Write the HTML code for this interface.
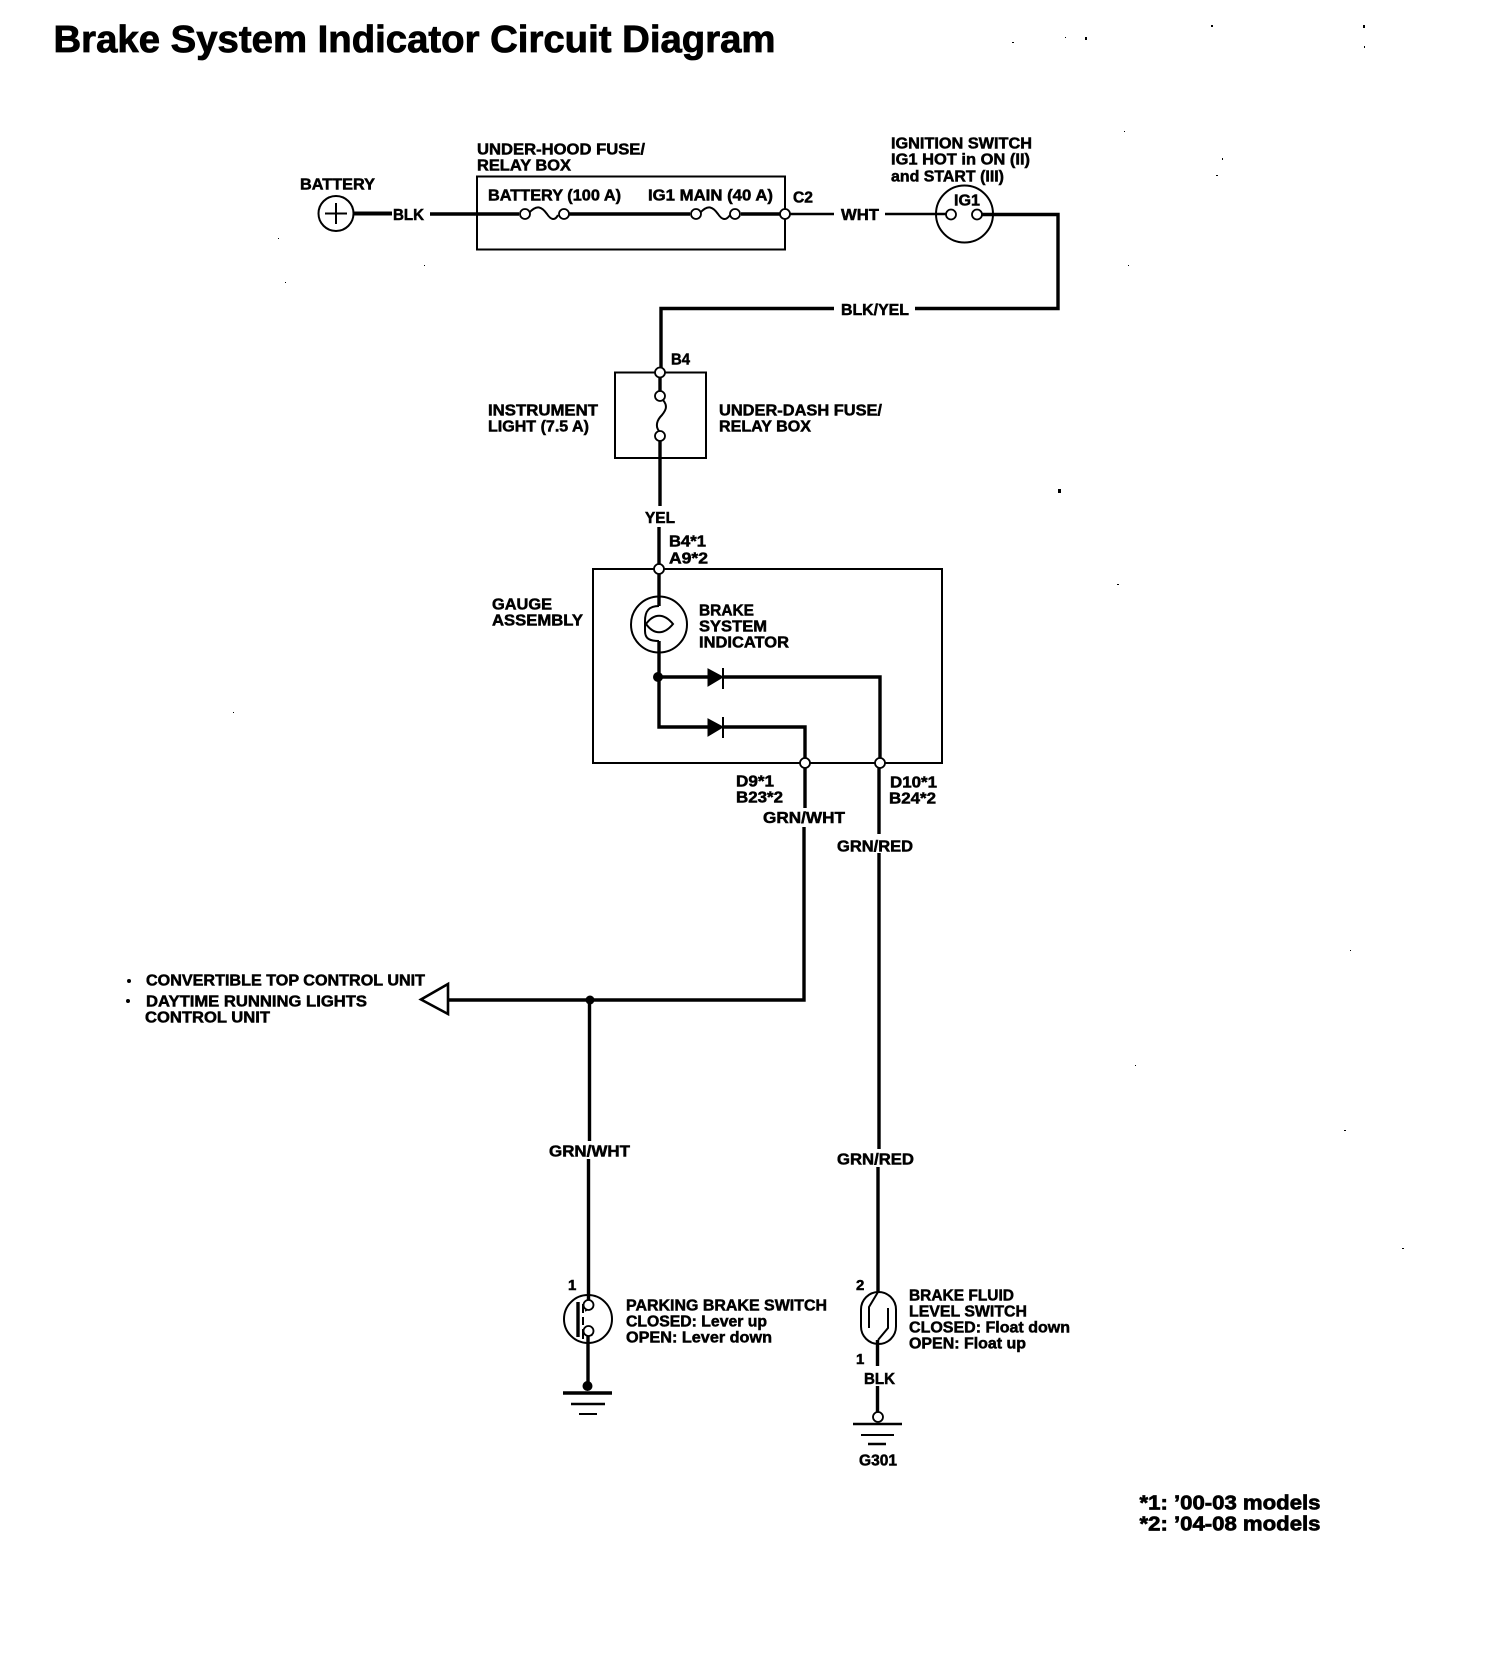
<!DOCTYPE html>
<html>
<head>
<meta charset="utf-8">
<style>
html,body{margin:0;padding:0;background:#fff}
svg{display:block}
text{font-family:"Liberation Sans",sans-serif;font-weight:700;font-size:15.5px;fill:#000;stroke:#000;stroke-width:.5px}
.w{fill:none;stroke:#000;stroke-width:3.4}
.t{fill:none;stroke:#000;stroke-width:2}
.n{fill:#fff;stroke:#000;stroke-width:1.8}
</style>
</head>
<body>
<svg width="1504" height="1666" viewBox="0 0 1504 1666" xmlns="http://www.w3.org/2000/svg">
<rect width="1504" height="1666" fill="#fff"/>

<!-- title -->
<text x="53.500" y="52" textLength="722" lengthAdjust="spacingAndGlyphs" style="font-size:38px;stroke-width:.8px">Brake System Indicator Circuit Diagram</text>

<g transform="translate(-1,-1)">
<!-- top row -->
<text x="301" y="190.400" textLength="75" lengthAdjust="spacingAndGlyphs">BATTERY</text>
<circle cx="337" cy="214.500" r="17.500" class="t"/>
<path d="M337 204V225M326 214.500H348" class="t" stroke-width="1.500"/>
<path d="M354 214.500H393" class="w" style="stroke-width:4"/>
<text x="394" y="221" textLength="31" lengthAdjust="spacingAndGlyphs">BLK</text>
<path d="M431 215H520M570 215H691M742 215H781" class="w"/>

<rect x="478" y="177.500" width="308" height="73" class="t"/>
<text x="478" y="155.400" textLength="168" lengthAdjust="spacingAndGlyphs">UNDER-HOOD FUSE/</text>
<text x="478" y="171.400" textLength="94" lengthAdjust="spacingAndGlyphs">RELAY BOX</text>
<text x="489" y="201.400" textLength="133" lengthAdjust="spacingAndGlyphs">BATTERY (100 A)</text>
<text x="649" y="201.400" textLength="125" lengthAdjust="spacingAndGlyphs">IG1 MAIN (40 A)</text>
<path d="M530 214C538 205 543 208 548 215C552 221 556 222 559 216" class="t"/>
<circle cx="526" cy="215" r="5" class="n"/><circle cx="565" cy="215" r="5" class="n"/>
<path d="M701 214C709 205 714 208 719 215C723 221 727 222 731 216" class="t"/>
<circle cx="697" cy="215" r="5" class="n"/><circle cx="736" cy="215" r="5" class="n"/>

<text x="794" y="203.400" textLength="20" lengthAdjust="spacingAndGlyphs">C2</text>
<path d="M790 215H835" class="t" style="stroke-width:2.600"/>
<circle cx="786" cy="215" r="5" class="n"/>
<text x="842" y="221" textLength="38" lengthAdjust="spacingAndGlyphs">WHT</text>
<path d="M886 215H948" class="t" style="stroke-width:2.600"/>

<text x="892" y="149.400" textLength="141" lengthAdjust="spacingAndGlyphs">IGNITION SWITCH</text>
<text x="892" y="165.400" textLength="139" lengthAdjust="spacingAndGlyphs">IG1 HOT in ON (II)</text>
<text x="892" y="182.400" textLength="113" lengthAdjust="spacingAndGlyphs">and START (III)</text>
<circle cx="965.500" cy="215" r="28.500" class="t"/>
<text x="955" y="206.400" textLength="26" lengthAdjust="spacingAndGlyphs">IG1</text>
<circle cx="952" cy="215.500" r="5" class="n"/><circle cx="978" cy="215.500" r="5" class="n"/>
<path d="M983 215.500H1059V309.500H916" class="w"/>
<text x="842" y="316" textLength="68" lengthAdjust="spacingAndGlyphs">BLK/YEL</text>
<path d="M835 309.500H662V369" class="w"/>

<!-- under-dash fuse -->
<text x="672" y="365.400" textLength="19" lengthAdjust="spacingAndGlyphs">B4</text>
<rect x="616" y="373.500" width="91" height="85.500" class="t"/>
<circle cx="661" cy="373.500" r="5" class="n"/>
<path d="M661 378V392" class="w"/>
<path d="M664 401C669 407 667 411 663 416C658 421 656 427 660 432" class="t"/>
<circle cx="661" cy="397" r="5" class="n"/><circle cx="661" cy="437" r="5" class="n"/>
<text x="489" y="416.400" textLength="110" lengthAdjust="spacingAndGlyphs">INSTRUMENT</text>
<text x="489" y="432.400" textLength="101" lengthAdjust="spacingAndGlyphs">LIGHT (7.5 A)</text>
<text x="720" y="416.400" textLength="163" lengthAdjust="spacingAndGlyphs">UNDER-DASH FUSE/</text>
<text x="720" y="432.400" textLength="92" lengthAdjust="spacingAndGlyphs">RELAY BOX</text>
<path d="M661 442V507" class="w"/>
<text x="646" y="524" textLength="30" lengthAdjust="spacingAndGlyphs">YEL</text>
<path d="M660 528V566" class="w"/>
<text x="670" y="547.400" textLength="37" lengthAdjust="spacingAndGlyphs">B4*1</text>
<text x="670" y="564.400" textLength="39" lengthAdjust="spacingAndGlyphs">A9*2</text>

<!-- gauge -->
<rect x="594" y="570" width="349" height="194" class="t"/>
<circle cx="660" cy="570" r="5" class="n"/>
<text x="493" y="610.500" textLength="60" lengthAdjust="spacingAndGlyphs">GAUGE</text>
<text x="493" y="626.500" textLength="91" lengthAdjust="spacingAndGlyphs">ASSEMBLY</text>
<text x="700" y="616.500" textLength="55" lengthAdjust="spacingAndGlyphs">BRAKE</text>
<text x="700" y="632.500" textLength="68" lengthAdjust="spacingAndGlyphs">SYSTEM</text>
<text x="700" y="648.500" textLength="90" lengthAdjust="spacingAndGlyphs">INDICATOR</text>
<path d="M660 575V607" class="w"/>
<circle cx="660" cy="625.500" r="28" class="t"/>
<path d="M660 607C650 607 646 612 646 622V632C646 640 651 642 660 642" class="t"/>
<path d="M647 625C655 614 665 614 674 625C665 636 655 636 647 625Z" class="t"/>
<path d="M660 642V728H710M724 728H806V759" class="w"/>
<path d="M659 678H710M724 678H881V759" class="w"/>
<circle cx="659" cy="678" r="5" fill="#000"/>
<path d="M709 670V687L724 678Z" fill="#000" stroke="#000"/>
<path d="M724 669V690" class="t"/>
<path d="M709 720V737L724 728Z" fill="#000" stroke="#000"/>
<path d="M724 718V739" class="t"/>
<circle cx="806" cy="764" r="5" class="n"/>
<circle cx="881" cy="764" r="5" class="n"/>

<text x="737" y="787.400" textLength="38" lengthAdjust="spacingAndGlyphs">D9*1</text>
<text x="737" y="803.400" textLength="47" lengthAdjust="spacingAndGlyphs">B23*2</text>
<text x="891" y="788.400" textLength="47" lengthAdjust="spacingAndGlyphs">D10*1</text>
<text x="890" y="804.400" textLength="47" lengthAdjust="spacingAndGlyphs">B24*2</text>
<path d="M806 769V809" class="w"/>
<text x="764" y="824" textLength="82" lengthAdjust="spacingAndGlyphs">GRN/WHT</text>
<path d="M805 828V1001H449" class="w"/>
<path d="M880 769V835" class="w"/>
<text x="838" y="852.400" textLength="76" lengthAdjust="spacingAndGlyphs">GRN/RED</text>
<path d="M880 854V1150" class="w"/>
<text x="838" y="1165.400" textLength="77" lengthAdjust="spacingAndGlyphs">GRN/RED</text>
<path d="M879 1168V1293" class="w"/>

<!-- left branch -->
<circle cx="130" cy="982" r="2" fill="#000"/>
<circle cx="129" cy="1002" r="2" fill="#000"/>
<text x="147" y="986.400" textLength="279" lengthAdjust="spacingAndGlyphs">CONVERTIBLE TOP CONTROL UNIT</text>
<text x="147" y="1007.400" textLength="221" lengthAdjust="spacingAndGlyphs">DAYTIME RUNNING LIGHTS</text>
<text x="146" y="1023.400" textLength="125" lengthAdjust="spacingAndGlyphs">CONTROL UNIT</text>
<path d="M449 985V1015L422 1000.500Z" fill="#fff" stroke="#000" stroke-width="2.600"/>
<circle cx="591" cy="1001" r="4.500" fill="#000"/>
<path d="M590.500 1001V1142" class="w"/>
<text x="550" y="1157.400" textLength="81" lengthAdjust="spacingAndGlyphs">GRN/WHT</text>
<path d="M589.500 1160V1301" class="w"/>

<!-- parking brake switch -->
<text x="569" y="1291" style="font-size:15px">1</text>
<circle cx="589" cy="1320" r="24" class="t"/>
<path d="M579 1303V1338" class="w"/>
<path d="M584 1305V1314M584 1318V1326M584 1330V1340" class="t"/>
<path d="M593 1302C590 1309 589 1311 586 1312M586 1328C589 1329 591 1331 593 1337" class="t" style="stroke-width:1.400"/>
<circle cx="589.500" cy="1306" r="5" class="n"/><circle cx="589.500" cy="1332" r="5" class="n"/>
<path d="M589 1337V1387" class="w"/>
<circle cx="588.500" cy="1387" r="5" fill="#000"/>
<path d="M564 1394H613" class="w"/>
<path d="M572 1405H606" class="w" style="stroke-width:2.600"/>
<path d="M580 1415H598" class="t"/>
<text x="627" y="1311.400" textLength="201" lengthAdjust="spacingAndGlyphs">PARKING BRAKE SWITCH</text>
<text x="627" y="1327.400" textLength="141" lengthAdjust="spacingAndGlyphs">CLOSED: Lever up</text>
<text x="627" y="1343.400" textLength="146" lengthAdjust="spacingAndGlyphs">OPEN: Lever down</text>

<!-- brake fluid switch -->
<text x="857" y="1291" style="font-size:15px">2</text>
<rect x="862" y="1293" width="35" height="52" rx="17.500" ry="17.500" class="t"/>
<path d="M879 1293L870 1308V1329" class="t"/>
<path d="M889 1309V1329L879 1341" class="t"/>
<path d="M878.500 1341V1367" class="w"/>
<text x="857" y="1365" style="font-size:15px">1</text>
<text x="865" y="1385" textLength="31" lengthAdjust="spacingAndGlyphs">BLK</text>
<path d="M878.500 1387V1414" class="w"/>
<circle cx="879" cy="1418" r="5" class="n"/>
<path d="M854 1425H903" class="w" style="stroke-width:2.600"/>
<path d="M862 1436H895" class="t"/>
<path d="M869 1445H887" class="t" style="stroke-width:2.400"/>
<text x="860" y="1466.400" textLength="38" lengthAdjust="spacingAndGlyphs">G301</text>
<text x="910" y="1301.400" textLength="105" lengthAdjust="spacingAndGlyphs">BRAKE FLUID</text>
<text x="910" y="1317.400" textLength="118" lengthAdjust="spacingAndGlyphs">LEVEL SWITCH</text>
<text x="910" y="1333.400" textLength="161" lengthAdjust="spacingAndGlyphs">CLOSED: Float down</text>
<text x="910" y="1349.400" textLength="117" lengthAdjust="spacingAndGlyphs">OPEN: Float up</text>
</g>

<!-- footnotes -->
<text x="1139.500" y="1509.500" textLength="181" lengthAdjust="spacingAndGlyphs" style="font-size:20px;stroke-width:.7px">*1: ’00-03 models</text>
<text x="1139.500" y="1530.500" textLength="181" lengthAdjust="spacingAndGlyphs" style="font-size:20px;stroke-width:.7px">*2: ’04-08 models</text>

<!-- scan specks -->
<g fill="#000">
<rect x="1085" y="37" width="2" height="3"/><rect x="1012" y="42" width="2" height="1"/><rect x="1065" y="37" width="1" height="1"/>
<rect x="1211" y="25" width="2" height="2"/><rect x="1363" y="25" width="2" height="3"/><rect x="1364" y="46" width="1" height="2"/>
<rect x="1058" y="489" width="3" height="4"/><rect x="1117" y="584" width="2" height="1"/>
<rect x="1216" y="175" width="2" height="1"/><rect x="1124" y="131" width="1" height="1"/><rect x="1222" y="158" width="1" height="2"/>
<rect x="1128" y="265" width="1" height="1"/><rect x="1135" y="1065" width="1" height="1"/><rect x="1402" y="1248" width="2" height="1"/>
<rect x="1344" y="1130" width="2" height="1"/><rect x="1350" y="950" width="1" height="1"/><rect x="233" y="712" width="1" height="1"/>
<rect x="285" y="282" width="1" height="1"/><rect x="278" y="238" width="1" height="1"/><rect x="424" y="265" width="1" height="1"/>
</g>
</svg>
</body>
</html>
